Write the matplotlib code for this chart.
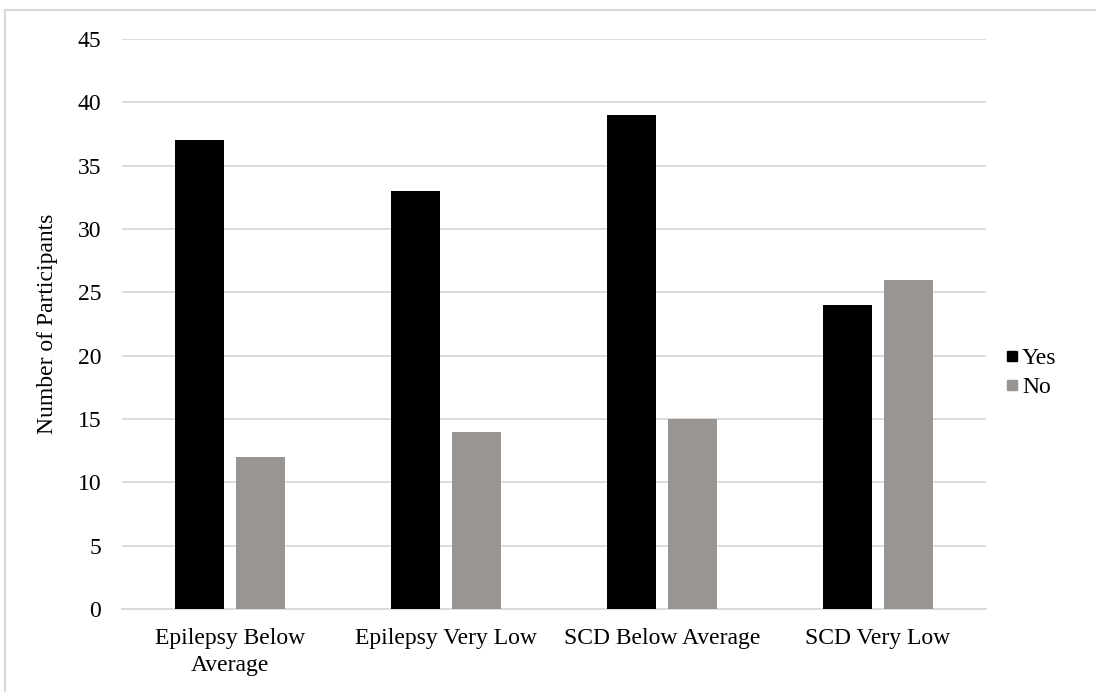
import matplotlib.pyplot as plt
import numpy as np
from matplotlib.lines import Line2D

plt.rcParams['font.family'] = ['Liberation Serif', 'DejaVu Serif']

groups = ['Epilepsy Below\nAverage', 'Epilepsy Very Low', 'SCD Below Average', 'SCD Very Low']
yes_counts = [37, 33, 39, 24]
no_counts = [12, 14, 15, 26]

black = '#000000'
gray = '#989593'
grid_col = '#D9D9D9'
fs = 17

fig = plt.figure(figsize=(10.96, 6.92), dpi=100)
ax = fig.add_axes([0.1113, 0.1199, 0.7883, 0.8237])

x = np.arange(len(groups))
w = 0.23
ax.bar(x - 0.141, yes_counts, w, color=black, label='Yes', zorder=3)
ax.bar(x + 0.141, no_counts, w, color=gray, label='No', zorder=3)

ax.set_xlim(-0.5, len(groups) - 0.5)
ax.set_ylim(0, 45)
ax.set_yticks(np.arange(0, 46, 5))
ax.set_xticks(x)
ax.set_xticklabels(groups, fontsize=fs, linespacing=1.35)
ax.tick_params(axis='y', length=0, pad=15, labelsize=fs)
ax.tick_params(axis='x', length=0, pad=14)
ax.yaxis.grid(True, color=grid_col, linewidth=1.3, zorder=0)
for s in ['top', 'right', 'left']:
    ax.spines[s].set_visible(False)
ax.spines['bottom'].set_color(grid_col)
ax.spines['bottom'].set_linewidth(1.3)
ax.set_ylabel('Number of Participants', fontsize=fs, labelpad=14)

# legend at the right, square markers
handles = [Line2D([], [], marker='s', linestyle='none', markersize=7, color=c)
           for c in (black, gray)]
fig.legend(handles, ['Yes', 'No'], loc='center left', bbox_to_anchor=(0.899, 0.461),
           frameon=False, fontsize=fs, handlelength=0.5, handletextpad=0.15,
           labelspacing=0.3)

# chart frame (top and left edges visible)
fig.add_artist(Line2D([5 / 1096, 1], [1 - 10 / 692, 1 - 10 / 692],
                      color=grid_col, linewidth=1.5, transform=fig.transFigure))
fig.add_artist(Line2D([5 / 1096, 5 / 1096], [0, 1 - 10 / 692],
                      color=grid_col, linewidth=1.5, transform=fig.transFigure))

fig.savefig('out.png', dpi=100)
